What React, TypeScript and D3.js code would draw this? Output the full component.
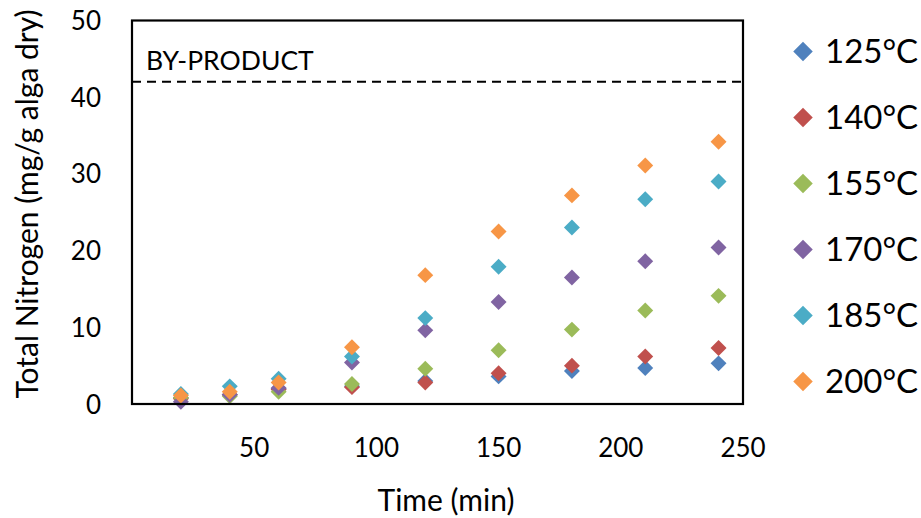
import React from "react";
import * as d3 from "d3";

// Sampling times (min)
const times = [20, 40, 60, 90, 120, 150, 180, 210, 240];

// Series labels and colours
const seriesNames = ["125°C", "140°C", "155°C", "170°C", "185°C", "200°C"];
const seriesColors = ["#4F81BD", "#C0504D", "#9BBB59", "#8064A2", "#4BACC6", "#F79646"];

// Total nitrogen (mg/g alga dry) per series
const n125 = [0.8, 1.2, 2.0, 2.3, 3.0, 3.6, 4.3, 4.7, 5.3];
const n140 = [0.7, 1.2, 1.9, 2.2, 2.8, 4.0, 5.0, 6.2, 7.3];
const n155 = [0.8, 1.0, 1.6, 2.6, 4.6, 7.0, 9.7, 12.2, 14.1];
const n170 = [0.3, 1.2, 2.1, 5.4, 9.6, 13.3, 16.5, 18.6, 20.4];
const n185 = [1.3, 2.3, 3.3, 6.2, 11.2, 17.9, 23.0, 26.7, 29.0];
const n200 = [1.1, 1.6, 2.8, 7.4, 16.8, 22.5, 27.2, 31.1, 34.2];
const seriesValues = [n125, n140, n155, n170, n185, n200];

// Reference level for the by-product
const byProductLevel = 42;
const byProductLabel = "BY-PRODUCT";

const xTicks = [50, 100, 150, 200, 250];
const yTicks = [0, 10, 20, 30, 40, 50];

const W = 921;
const H = 518;
const plot = { left: 132, right: 743, top: 20.5, bottom: 404 };
const font = "Lato, 'Open Sans', sans-serif";

export default function App() {
  const x = d3.scaleLinear().domain([0, 250]).range([plot.left, plot.right]);
  const y = d3.scaleLinear().domain([0, 50]).range([plot.bottom, plot.top]);
  const diamond = d3.symbol().type(d3.symbolDiamond2).size(2 * 9 * 9)() ?? "";
  const legendDiamond = d3.symbol().type(d3.symbolDiamond2).size(2 * 11 * 11)() ?? "";

  return (
    <svg
      width={W}
      height={H}
      style={{ position: "absolute", left: 0, top: 0, background: "#fff" }}
      fontFamily={font}
    >
      <rect x={0} y={0} width={W} height={H} fill="#fff" />

      {/* by-product reference line */}
      <line
        x1={plot.left}
        x2={plot.right}
        y1={y(byProductLevel)}
        y2={y(byProductLevel)}
        stroke="#000"
        strokeWidth={2}
        strokeDasharray="9 6"
      />
      <text x={146} y={70} fontSize={26.5} fill="#000">
        {byProductLabel}
      </text>

      {/* markers */}
      {seriesValues.map((vals, si) => (
        <g key={seriesNames[si]} fill={seriesColors[si]}>
          {vals.map((v, i) => (
            <path key={i} d={diamond} transform={`translate(${x(times[i])},${y(v)})`} />
          ))}
        </g>
      ))}

      {/* frame */}
      <rect
        x={plot.left}
        y={plot.top}
        width={plot.right - plot.left}
        height={plot.bottom - plot.top}
        fill="none"
        stroke="#000"
        strokeWidth={2.2}
      />

      {/* y tick labels */}
      {yTicks.map((t) => (
        <text key={t} x={101} y={y(t) + 9.5} fontSize={26} textAnchor="end" fill="#000">
          {t}
        </text>
      ))}

      {/* x tick labels */}
      {xTicks.map((t) => (
        <text key={t} x={x(t)} y={457} fontSize={26} textAnchor="middle" fill="#000">
          {t}
        </text>
      ))}

      {/* axis titles */}
      <text x={446} y={511} fontSize={30} textAnchor="middle" fill="#000">
        Time (min)
      </text>
      <text
        transform={`translate(38,204) rotate(-90)`}
        fontSize={30}
        textAnchor="middle"
        fill="#000"
      >
        Total Nitrogen (mg/g alga dry)
      </text>

      {/* legend */}
      {seriesNames.map((name, i) => {
        const cy = 51.5 + i * 66;
        return (
          <g key={name}>
            <path d={legendDiamond} transform={`translate(803,${cy})`} fill={seriesColors[i]} />
            <text x={825} y={cy + 11} fontSize={33} fill="#000">
              {name}
            </text>
          </g>
        );
      })}
    </svg>
  );
}
